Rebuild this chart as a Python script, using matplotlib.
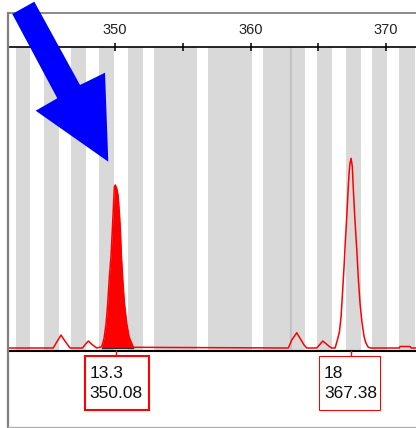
import numpy as np
import matplotlib
matplotlib.use('Agg')
import matplotlib.pyplot as plt
import matplotlib.patches as mpatches
from matplotlib.lines import Line2D

plt.rcParams['font.family'] = ['Liberation Sans', 'DejaVu Sans']

# bin bands (size, bp)
bin_starts = [342.67, 344.78, 346.75, 348.84, 350.96, 352.90, 356.89, 360.94, 363.04, 364.89, 367.03, 368.99, 370.96]
bin_ends = [343.74, 345.89, 347.86, 349.95, 352.04, 356.03, 360.09, 362.97, 364.02, 365.99, 368.13, 370.10, 372.14]
bin_divider = 362.99

# trace (size, height)
trace_x = [342.10, 345.44, 345.70, 346.01, 346.30, 346.68,
           347.60, 347.80, 348.03, 348.30, 348.65,
           349.02, 349.19, 349.34, 349.46, 349.58, 349.70, 349.80, 349.88, 349.95,
           350.02, 350.12, 350.22, 350.32, 350.39, 350.47, 350.57, 350.69, 350.86,
           351.03, 351.23, 351.35,
           362.79, 363.04, 363.41, 363.65, 363.95, 364.15,
           364.89, 365.33, 365.82, 366.00,
           366.24, 366.41, 366.56, 366.68, 366.80, 366.90, 367.00, 367.10, 367.20,
           367.27, 367.34, 367.42, 367.51, 367.59, 367.69, 367.84, 367.96, 368.08,
           368.23, 368.38, 368.52, 368.69, 368.87,
           370.98, 371.03, 371.77, 371.85, 372.30]
trace_h = [0, 0, 6, 13, 7, 0,
           0, 3.5, 7, 3.5, 0,
           1.3, 9.7, 24.7, 44.7, 71.3, 91.3, 118, 141.3, 161.3,
           163, 159.7, 153, 134.7, 118, 91.3, 68, 44.7, 24.7,
           11.3, 4.7, 0.7,
           0, 8, 15.3, 9.7, 3, 0,
           0, 7, 1.5, 0,
           0, 8, 16.3, 31.3, 58, 81.3, 108, 131.3, 158,
           174.7, 184.7, 189.7, 181.3, 158, 131.3, 98, 68, 44.7,
           24.7, 11.3, 4.7, 0.7, 0,
           0, 1.5, 1.5, 0, 0]

tick_pos = [345, 350, 355, 360, 365, 370]
tick_labels = ['', '350', '', '360', '', '370']

peaks = [350.08, 367.38]
peak_labels = ['13.3\n350.08', '18\n367.38']
peak_selected = [True, False]
box_widths_px = [64, 61]

W, H = 416, 428
fig = plt.figure(figsize=(W / 100, H / 100), dpi=100)
ax = fig.add_axes([8 / W, (H - 351) / H, (W - 8) / W, (351 - 47) / H])
ax.set_xlim(342.10, 372.21)
ax.set_ylim(-3, 301)
px_per_unit = (W - 8) / (372.21 - 342.10)
ax_h_px = 351 - 47

for s, e in zip(bin_starts, bin_ends):
    ax.axvspan(s, e, color='#d9d9d9', lw=0, zorder=0)
ax.axvline(bin_divider, color='#c2c2c2', lw=1.5, zorder=0.5)

x = np.array(trace_x)
h = np.array(trace_h)
ax.plot(x, h, color='#ff0000', lw=1.1, zorder=2)
sel = (x >= 349.0) & (x <= 351.4)
ax.fill_between(x[sel], 0, h[sel], color='#ff0000', lw=0, zorder=2)
ax.plot([349.02, 351.35], [0, 0], color='#333333', lw=1, zorder=3)

ax.set_yticks([])
ax.set_xticks(tick_pos)
ax.set_xticklabels(tick_labels)
ax.tick_params(axis='x', top=True, bottom=False, labeltop=True, labelbottom=False,
               direction='inout', length=6, width=1.1, pad=4, labelsize=10.5,
               labelcolor='#222222')
for side in ['left', 'right']:
    ax.spines[side].set_visible(False)
ax.spines['top'].set_linewidth(1.2)
ax.spines['bottom'].set_linewidth(1.5)

xtr = ax.get_xaxis_transform()
for px, lab, sel_pk, bw in zip(peaks, peak_labels, peak_selected, box_widths_px):
    ax.plot([px, px], [0, -5 / ax_h_px], transform=xtr,
            color='#ff0000', lw=1, clip_on=False, zorder=4)
    lw = 2 if sel_pk else 1
    ax.add_patch(mpatches.Rectangle((px - 31.5 / px_per_unit, -59 / ax_h_px),
                                    bw / px_per_unit, 54 / ax_h_px, transform=xtr,
                                    fc='white', ec='#ff0000', lw=lw * 0.75,
                                    clip_on=False, zorder=5))
    ax.annotate(lab, xy=(px, -5 / ax_h_px), xycoords=('data', 'axes fraction'),
                xytext=(-26.5, -10.5), textcoords='offset pixels', ha='left', va='top',
                fontsize=12.5, color='#111111', linespacing=1.38,
                annotation_clip=False, zorder=6)

# outer frame
def fig_line(xs, ys, **kw):
    fig.add_artist(Line2D([v / W for v in xs], [1 - v / H for v in ys],
                          transform=fig.transFigure, **kw))

fig_line([8, 8], [13, 428], color='#808080', lw=1.6)
fig_line([8, W], [13, 13], color='#808080', lw=1.3)
fig_line([8, W], [427, 427], color='#b0b0b0', lw=1.0)

# pointer arrow
arrow_pts = [(12.3, 14), (34.3, 1.7), (80, 85), (105, 72.7), (108.3, 161.7),
             (35.7, 110.7), (57.3, 98.3)]
fig.add_artist(mpatches.Polygon([(px / W, 1 - py / H) for px, py in arrow_pts],
                                closed=True, transform=fig.transFigure,
                                fc='#0000ff', ec='none', zorder=10))

fig.savefig('out.png', dpi=100)
